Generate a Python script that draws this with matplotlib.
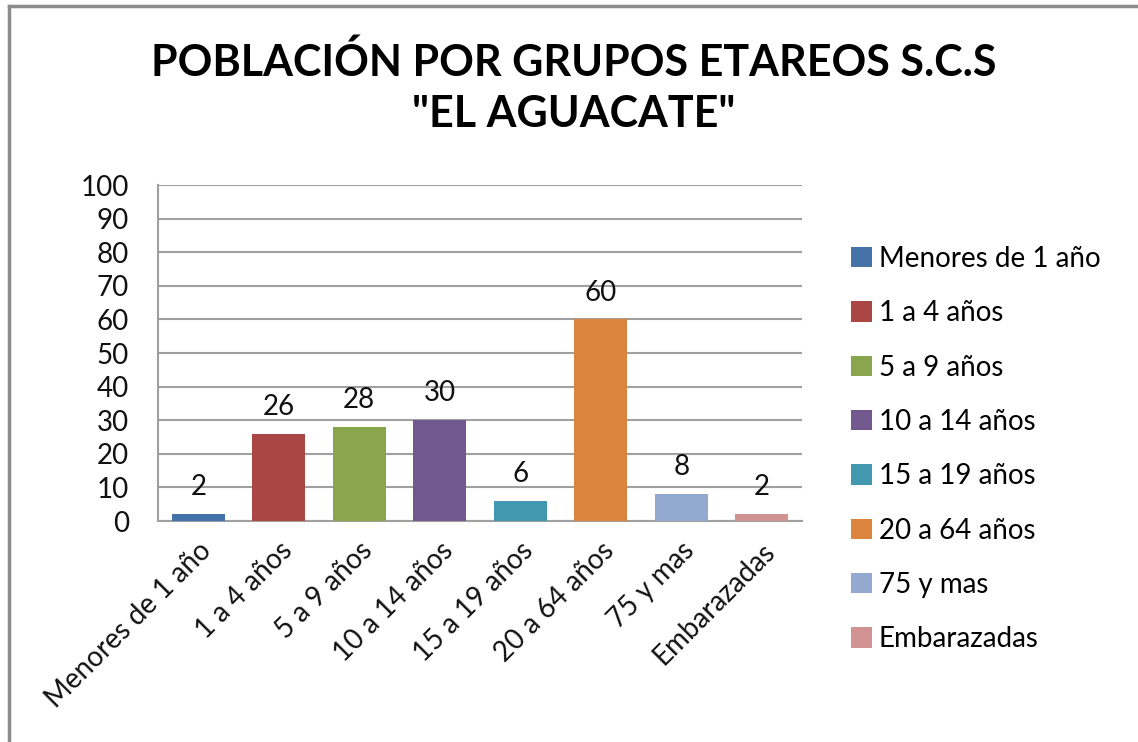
import matplotlib
matplotlib.use("Agg")
import matplotlib.pyplot as plt
from matplotlib.lines import Line2D
from matplotlib.patches import Patch

categories = ["Menores de 1 año", "1 a 4 años", "5 a 9 años", "10 a 14 años",
              "15 a 19 años", "20 a 64 años", "75 y mas", "Embarazadas"]
values = [2, 26, 28, 30, 6, 60, 8, 2]
colors = ["#4572A7", "#AA4643", "#89A54E", "#71588F",
          "#4198AF", "#DB843D", "#93A9CF", "#D19392"]
yticks = list(range(0, 101, 10))

plt.rcParams["font.family"] = ["Lato", "DejaVu Sans"]

fig = plt.figure(figsize=(11.38, 7.42), dpi=100)
ax = fig.add_axes([158 / 1138, 1 - 521 / 742, 644 / 1138, 336 / 742])

x = range(len(categories))
bars = ax.bar(x, values, width=0.66, color=colors, zorder=3)
for xi, v in zip(x, values):
    ax.annotate(str(v), (xi, v), xytext=(0, 10), textcoords="offset points",
                ha="center", va="bottom", fontsize=20, color="#111111")

ax.set_xlim(-0.5, len(categories) - 0.5)
ax.set_ylim(0, 100)
ax.set_yticks(yticks)
ax.tick_params(axis="y", labelsize=20, length=0, pad=21, labelcolor="#111111")
ax.set_xticks(list(x))
ax.set_xticklabels(categories, rotation=45, ha="right", rotation_mode="anchor",
                   fontsize=20, color="#111111")
ax.tick_params(axis="x", length=0, pad=12)
ax.grid(axis="y", color="#A0A0A0", linewidth=1.5, zorder=0)
for s in ["top", "right"]:
    ax.spines[s].set_visible(False)
ax.spines["left"].set_color("#A0A0A0")
ax.spines["bottom"].set_color("#A0A0A0")
ax.spines["left"].set_linewidth(1.5)
ax.spines["bottom"].set_linewidth(1.5)

handles = [Patch(facecolor=c, label=l) for c, l in zip(colors, categories)]
fig.legend(handles=handles, loc="upper left", bbox_to_anchor=(826 / 1138, 1 - 221 / 742),
           frameon=False, fontsize=20, handlelength=0.75, handleheight=0.75,
           handletextpad=0.25, labelspacing=1.02)

fig.text(574 / 1138, 1 - 62 / 742, "POBLACIÓN POR GRUPOS ETAREOS S.C.S",
         ha="center", va="center", fontsize=31, fontweight="bold")
fig.text(574 / 1138, 1 - 114 / 742, "\"EL AGUACATE\"",
         ha="center", va="center", fontsize=31, fontweight="bold")

fig.add_artist(Line2D([9 / 1138, 9 / 1138], [0, 1 - 6 / 742], transform=fig.transFigure,
                      color="#8C8C8C", linewidth=2.5))
fig.add_artist(Line2D([9 / 1138, 1], [1 - 6 / 742, 1 - 6 / 742], transform=fig.transFigure,
                      color="#8C8C8C", linewidth=2.5))

fig.savefig("out.png", dpi=100)
